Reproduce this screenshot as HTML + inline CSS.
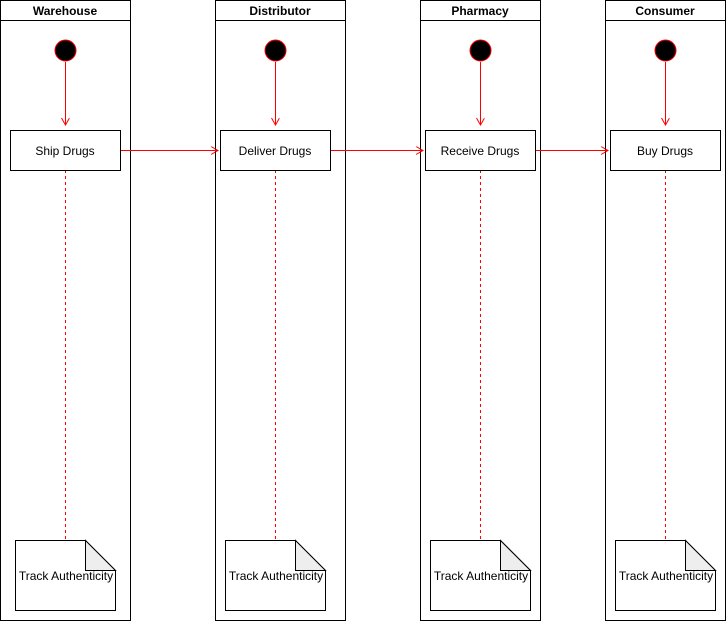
<!DOCTYPE html>
<html><head><style>body{margin:0;background:#fff}</style></head><body>
<svg width="726" height="621" xmlns="http://www.w3.org/2000/svg" font-family="Liberation Sans, sans-serif">
<defs><marker id="a" markerWidth="10" markerHeight="10" refX="8" refY="4" orient="auto" markerUnits="userSpaceOnUse"><path d="M1,0 L8,4 L1,8" fill="none" stroke="#f00" stroke-width="1"/></marker></defs>
<g fill="none" stroke="#000">
<rect x="0.5" y="0.5" width="130" height="620"/><line x1="0.5" y1="20.5" x2="130.5" y2="20.5"/>
<rect x="215.5" y="0.5" width="130" height="620"/><line x1="215.5" y1="20.5" x2="345.5" y2="20.5"/>
<rect x="420.5" y="0.5" width="120" height="620"/><line x1="420.5" y1="20.5" x2="540.5" y2="20.5"/>
<rect x="605.5" y="0.5" width="120" height="620"/><line x1="605.5" y1="20.5" x2="725.5" y2="20.5"/>
</g>
<g font-size="12" font-weight="bold" text-anchor="middle">
<text x="65" y="15">Warehouse</text><text x="280" y="15">Distributor</text><text x="480" y="15">Pharmacy</text><text x="665" y="15">Consumer</text>
</g>
<g fill="#000" stroke="#f00"><circle cx="65.5" cy="50.5" r="10.5"/><circle cx="275.5" cy="50.5" r="10.5"/><circle cx="480.5" cy="50.5" r="10.5"/><circle cx="665.5" cy="50.5" r="10.5"/></g>
<g stroke="#f00" marker-end="url(#a)">
<line x1="65.5" y1="62" x2="65.5" y2="125"/><line x1="275.5" y1="62" x2="275.5" y2="125"/><line x1="480.5" y1="62" x2="480.5" y2="125"/><line x1="665.5" y1="62" x2="665.5" y2="125"/>
<line x1="120" y1="150.5" x2="218" y2="150.5"/><line x1="330" y1="150.5" x2="423" y2="150.5"/><line x1="535" y1="150.5" x2="608" y2="150.5"/>
</g>
<g stroke="#f00" stroke-dasharray="3,3">
<line x1="65.5" y1="170" x2="65.5" y2="540"/><line x1="275.5" y1="170" x2="275.5" y2="540"/><line x1="480.5" y1="170" x2="480.5" y2="540"/><line x1="665.5" y1="170" x2="665.5" y2="540"/>
</g>
<g fill="#fff" stroke="#000">
<rect x="10.5" y="130.5" width="110" height="40"/><rect x="220.5" y="130.5" width="110" height="40"/><rect x="425.5" y="130.5" width="110" height="40"/><rect x="610.5" y="130.5" width="110" height="40"/>
</g>
<g font-size="12" text-anchor="middle">
<text x="65" y="155">Ship Drugs</text><text x="275" y="155">Deliver Drugs</text><text x="480" y="155">Receive Drugs</text><text x="665" y="155">Buy Drugs</text>
</g>
<g stroke="#000">
<g transform="translate(15,0)"><path d="M0.5,540.5 H70.5 L100.5,570.5 V610.5 H0.5 Z" fill="#fff"/><path d="M70.5,540.5 V570.5 H100.5 Z" fill="#eee"/></g>
<g transform="translate(225,0)"><path d="M0.5,540.5 H70.5 L100.5,570.5 V610.5 H0.5 Z" fill="#fff"/><path d="M70.5,540.5 V570.5 H100.5 Z" fill="#eee"/></g>
<g transform="translate(430,0)"><path d="M0.5,540.5 H70.5 L100.5,570.5 V610.5 H0.5 Z" fill="#fff"/><path d="M70.5,540.5 V570.5 H100.5 Z" fill="#eee"/></g>
<g transform="translate(615,0)"><path d="M0.5,540.5 H70.5 L100.5,570.5 V610.5 H0.5 Z" fill="#fff"/><path d="M70.5,540.5 V570.5 H100.5 Z" fill="#eee"/></g>
</g>
<g font-size="12" text-anchor="middle">
<text x="66" y="580">Track Authenticity</text><text x="276" y="580">Track Authenticity</text><text x="481" y="580">Track Authenticity</text><text x="666" y="580">Track Authenticity</text>
</g>
</svg>
</body></html>
